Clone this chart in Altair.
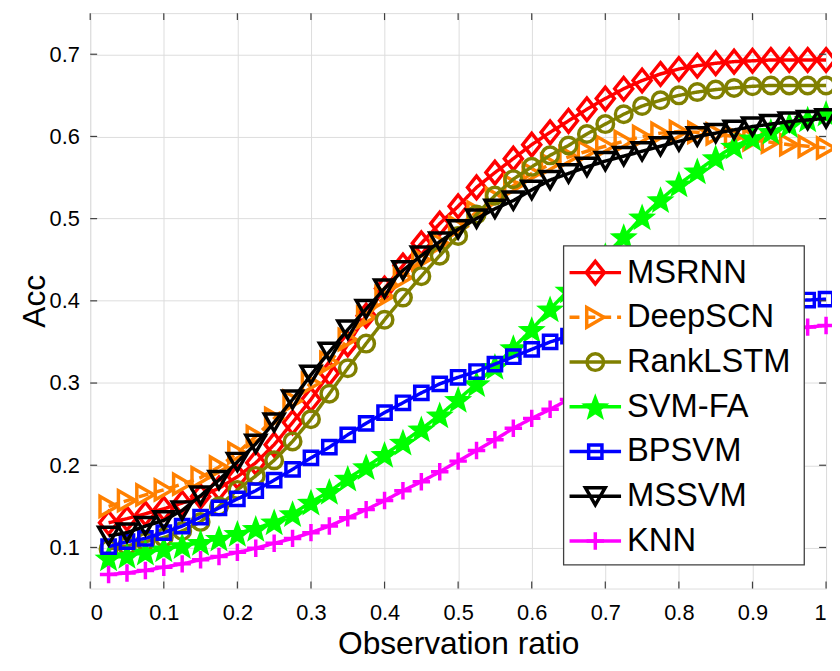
import math
import altair as alt
import pandas as pd

# ---------------- data ----------------
X = [0.025, 0.05, 0.075, 0.1, 0.125, 0.15, 0.175, 0.2, 0.225, 0.25,
     0.275, 0.3, 0.325, 0.35, 0.375, 0.4, 0.425, 0.45, 0.475, 0.5,
     0.525, 0.55, 0.575, 0.6, 0.625, 0.65, 0.675, 0.7, 0.725, 0.75,
     0.775, 0.8, 0.825, 0.85, 0.875, 0.9, 0.925, 0.95, 0.975, 1.0]

MSRNN = [0.130, 0.135, 0.141, 0.147, 0.154, 0.162, 0.172, 0.186, 0.203, 0.225,
         0.252, 0.280, 0.312, 0.347, 0.382, 0.415, 0.443, 0.470, 0.494, 0.515,
         0.538, 0.556, 0.573, 0.590, 0.605, 0.619, 0.633, 0.646, 0.658, 0.668,
         0.676, 0.682, 0.686, 0.689, 0.691, 0.692, 0.693, 0.693, 0.693, 0.693]
DeepSCN = [0.150, 0.157, 0.164, 0.170, 0.177, 0.185, 0.198, 0.215, 0.235, 0.257,
           0.278, 0.300, 0.325, 0.353, 0.380, 0.405, 0.428, 0.450, 0.470, 0.490,
           0.508, 0.525, 0.540, 0.555, 0.566, 0.575, 0.582, 0.588, 0.594, 0.600,
           0.604, 0.606, 0.605, 0.603, 0.600, 0.596, 0.593, 0.590, 0.588, 0.586]
RankLSTM = [0.098, 0.102, 0.107, 0.112, 0.120, 0.131, 0.150, 0.170, 0.187, 0.206,
            0.229, 0.256, 0.287, 0.318, 0.348, 0.377, 0.404, 0.430, 0.455, 0.479,
            0.505, 0.528, 0.548, 0.563, 0.577, 0.589, 0.603, 0.615, 0.627, 0.637,
            0.644, 0.650, 0.654, 0.657, 0.659, 0.661, 0.662, 0.662, 0.662, 0.662]
SVMFA = [0.087, 0.090, 0.094, 0.098, 0.102, 0.106, 0.111, 0.117, 0.123, 0.131,
         0.141, 0.155, 0.168, 0.184, 0.198, 0.213, 0.228, 0.244, 0.261, 0.280,
         0.299, 0.320, 0.343, 0.365, 0.390, 0.413, 0.434, 0.455, 0.478, 0.502,
         0.523, 0.542, 0.558, 0.574, 0.588, 0.598, 0.606, 0.614, 0.621, 0.628]
BPSVM = [0.101, 0.107, 0.111, 0.118, 0.126, 0.137, 0.148, 0.159, 0.169, 0.182,
         0.195, 0.209, 0.222, 0.237, 0.251, 0.264, 0.276, 0.288, 0.299, 0.307,
         0.314, 0.323, 0.332, 0.341, 0.350, 0.357, 0.364, 0.370, 0.375, 0.380,
         0.384, 0.388, 0.391, 0.394, 0.396, 0.398, 0.399, 0.400, 0.401, 0.402]
MSSVM = [0.114, 0.118, 0.126, 0.133, 0.145, 0.163, 0.182, 0.204, 0.226, 0.252,
         0.280, 0.310, 0.338, 0.365, 0.390, 0.415, 0.437, 0.455, 0.472, 0.487,
         0.500, 0.512, 0.522, 0.535, 0.547, 0.555, 0.563, 0.570, 0.576, 0.582,
         0.588, 0.594, 0.600, 0.604, 0.608, 0.612, 0.615, 0.618, 0.620, 0.622]
KNN = [0.067, 0.069, 0.072, 0.076, 0.080, 0.085, 0.089, 0.094, 0.099, 0.105,
       0.111, 0.118, 0.126, 0.136, 0.146, 0.157, 0.169, 0.180, 0.192, 0.205,
       0.218, 0.231, 0.245, 0.257, 0.268, 0.280, 0.292, 0.303, 0.313, 0.322,
       0.330, 0.337, 0.344, 0.350, 0.355, 0.359, 0.362, 0.365, 0.368, 0.370]

NAMES = ["MSRNN", "DeepSCN", "RankLSTM", "SVM-FA", "BPSVM", "MSSVM", "KNN"]
SERIES = [MSRNN, DeepSCN, RankLSTM, SVMFA, BPSVM, MSSVM, KNN]

X_TICKS = [0, 0.1, 0.2, 0.3, 0.4, 0.5, 0.6, 0.7, 0.8, 0.9, 1.0]
Y_TICKS = [0.1, 0.2, 0.3, 0.4, 0.5, 0.6, 0.7]

# ---------------- styles ----------------
pts = []
for k in range(10):
    r = 1.0 if k % 2 == 0 else 0.42
    a = -math.pi / 2 + k * math.pi / 5
    pts.append(f"{r*math.cos(a):.3f},{r*math.sin(a) + 0.1:.3f}")
STAR = "M" + "L".join(pts) + "Z"
DIAMOND = "M0,-1L0.8,0L0,1L-0.8,0Z"
PLUS = "M-1,0L1,0M0,-1L0,1"

STYLE = {
    "MSRNN":    dict(color="#ff0000", shape=DIAMOND, size=520, filled=False, dash=[1, 0]),
    "DeepSCN":  dict(color="#ff8000", shape="triangle-right", size=400, filled=False, dash=[10, 6]),
    "RankLSTM": dict(color="#808000", shape="circle", size=280, filled=False, dash=[1, 0]),
    "SVM-FA":   dict(color="#00ff00", shape=STAR, size=650, filled=True, dash=[1, 0]),
    "BPSVM":    dict(color="#0000ff", shape="square", size=180, filled=False, dash=[1, 0]),
    "MSSVM":    dict(color="#000000", shape="triangle-down", size=400, filled=False, dash=[1, 0]),
    "KNN":      dict(color="#ff00ff", shape=PLUS, size=310, filled=False, dash=[1, 0]),
}
LW = 3.5

rows = []
for n, ys in zip(NAMES, SERIES):
    for x, y in zip(X, ys):
        rows.append({"name": n, "x": x, "y": y})
df = pd.DataFrame(rows)

W, H = 743, 581
FONT = "Liberation Sans"

xscale = alt.Scale(domain=[0, 1], nice=False, zero=False)
yscale = alt.Scale(domain=[0.05, 0.75], nice=False, zero=False)

xaxis = alt.Axis(values=X_TICKS, format="~g", title="Observation ratio", grid=True,
                 ticks=False, tickSize=0, domain=False, labelFontSize=22, labelPadding=14,
                 labelBaseline="top", titleFontSize=32, titleFontWeight="normal",
                 titleY=66, titleBaseline="alphabetic")
yaxis = alt.Axis(values=Y_TICKS, format=".1f", title="Acc", grid=True,
                 ticks=False, tickSize=0, domain=False, labelFontSize=22, labelPadding=11,
                 titleFontSize=32, titleFontWeight="normal", titleX=-46,
                 titleBaseline="alphabetic")

XE = alt.X("x:Q", scale=xscale, axis=xaxis)
YE = alt.Y("y:Q", scale=yscale, axis=yaxis)


def marker(chart, s, x, y):
    if s["filled"]:
        return chart.mark_point(shape=s["shape"], size=s["size"], filled=True, fill=s["color"],
                                stroke=s["color"], strokeWidth=1.5, opacity=1).encode(x=x, y=y)
    return chart.mark_point(shape=s["shape"], size=s["size"], filled=False, stroke=s["color"],
                            strokeWidth=LW, opacity=1).encode(x=x, y=y)


layers = []
for n in NAMES:
    s = STYLE[n]
    base = alt.Chart(df).transform_filter(alt.datum.name == n)
    line = base.mark_line(color=s["color"], strokeWidth=LW, strokeDash=s["dash"]).encode(x=XE, y=YE)
    layers += [line, marker(base, s, XE, YE)]

# inward ticks on all four sides
xt = pd.DataFrame({"x": X_TICKS})
yt = pd.DataFrame({"y": Y_TICKS})
TK = 7
tick_style = dict(color="#404040", strokeWidth=1.2)
layers.append(alt.Chart(xt).mark_rule(**tick_style).encode(x=XE, y=alt.value(H), y2=alt.value(H - TK)))
layers.append(alt.Chart(xt).mark_rule(**tick_style).encode(x=XE, y=alt.value(0), y2=alt.value(TK)))
layers.append(alt.Chart(yt).mark_rule(**tick_style).encode(y=YE, x=alt.value(0), x2=alt.value(TK)))
layers.append(alt.Chart(yt).mark_rule(**tick_style).encode(y=YE, x=alt.value(W), x2=alt.value(W - TK)))

main = alt.layer(*layers)

# ---------------- legend ----------------
leg = pd.DataFrame({"name": NAMES, "idx": list(range(len(NAMES)))})
LY = alt.Y("idx:Q", scale=alt.Scale(domain=[0, 6], range=[262, 533], nice=False, zero=False), axis=None)
box = alt.Chart(pd.DataFrame({"a": [0]})).mark_rect(fill="white", stroke="#404040", strokeWidth=1.3).encode(
    x=alt.value(478), x2=alt.value(721), y=alt.value(235), y2=alt.value(557))
leg_layers = [box]
for n in NAMES:
    s = STYLE[n]
    b = alt.Chart(leg).transform_filter(alt.datum.name == n)
    leg_layers.append(b.mark_rule(color=s["color"], strokeWidth=LW, strokeDash=s["dash"]).encode(
        y=LY, x=alt.value(484), x2=alt.value(536)))
    leg_layers.append(marker(b, s, alt.value(510), LY))
leg_layers.append(alt.Chart(leg).mark_text(align="left", baseline="middle", fontSize=33, font=FONT,
                                           color="black").encode(y=LY, x=alt.value(542), text="name:N"))
legend = alt.layer(*leg_layers)

chart = alt.layer(main, legend).resolve_scale(y="independent").properties(
    width=W, height=H,
    padding={"left": 83, "top": 2, "right": 6, "bottom": 72},
    autosize=alt.AutoSizeParams(type="none"),
).configure_view(stroke="#404040", strokeWidth=1.3).configure_axis(
    gridColor="#e3e3e3", gridWidth=1, gridOpacity=1,
    labelColor="#262626", titleColor="#262626", labelFont=FONT, titleFont=FONT,
).configure(background="white")

chart.save("out.html", embed_options={"renderer": "svg", "actions": False})
